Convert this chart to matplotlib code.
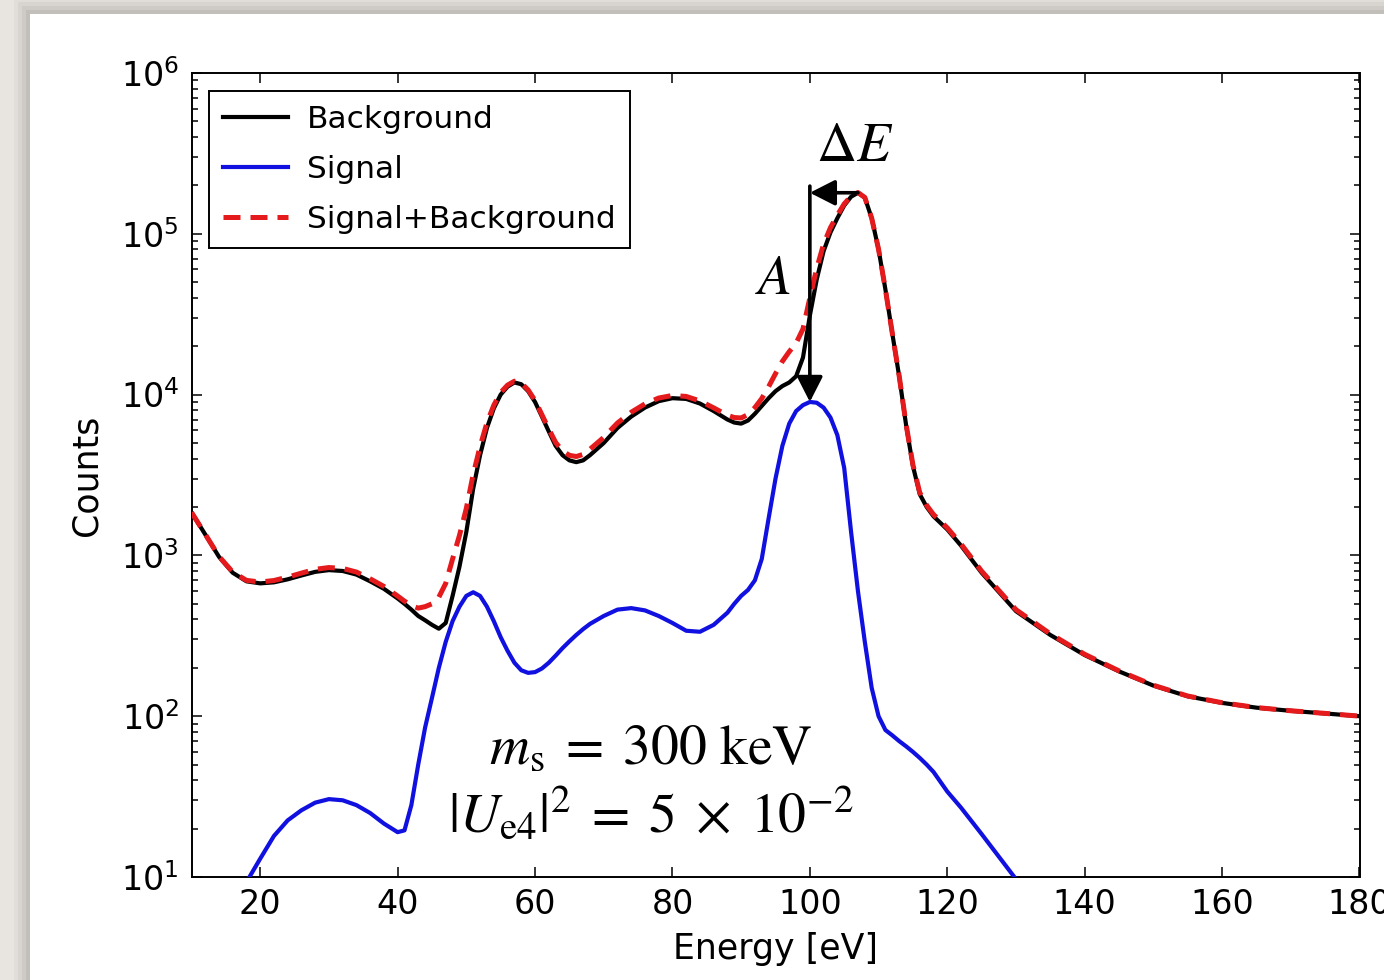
import numpy as np
import matplotlib.pyplot as plt
from matplotlib.patches import Rectangle

# energy grid [eV]
energy = [10, 12, 14, 16, 18, 20, 22, 24, 26, 28, 30, 32, 34, 36, 38, 40, 41, 42,
          43, 44, 45, 46, 47, 48, 49, 50, 51, 52, 53, 54, 55, 56, 57, 58, 59, 60,
          61, 62, 63, 64, 65, 66, 67, 68, 70, 72, 74, 76, 78, 80, 82, 84, 86, 88,
          89, 90, 91, 92, 93, 94, 95, 96, 97, 98, 99, 100, 101, 102, 103, 104, 105,
          106, 107, 108, 109, 110, 111, 112, 113, 114, 115, 116, 117, 118, 120, 122,
          125, 130, 135, 140, 145, 150, 155, 160, 165, 170, 175, 180]

background = [1850, 1350, 980, 780, 690, 670, 680, 710, 750, 790, 810, 800, 760, 690,
              620, 540, 500, 460, 420, 395, 370, 350, 380, 560, 850, 1400, 2600, 4200,
              6200, 8200, 10000, 11200, 11900, 11600, 10500, 9000, 7300, 5900, 4800,
              4200, 3900, 3800, 3900, 4200, 5000, 6200, 7300, 8300, 9100, 9500, 9400,
              8800, 7900, 7000, 6700, 6600, 6900, 7600, 8500, 9500, 10500, 11300, 11900,
              13000, 17000, 31000, 52000, 78000, 102000, 125000, 150000, 170000, 180000,
              168000, 125000, 80000, 45000, 24000, 13000, 6500, 3600, 2400, 2000, 1750,
              1450, 1150, 780, 450, 320, 240, 190, 155, 133, 121, 113, 108, 104, 100]

signal = [3, 4.2, 5.8, 7.8, 9.3, 13, 18, 22.5, 26, 29, 30.5, 30, 28, 25, 21.5, 19,
          19.5, 28, 50, 85, 130, 200, 290, 390, 480, 560, 590, 560, 480, 390, 310,
          255, 215, 193, 186, 188, 198, 215, 238, 265, 292, 320, 348, 375, 420, 460,
          470, 455, 420, 380, 340, 335, 370, 440, 500, 560, 610, 700, 950, 1700, 3000,
          4800, 6600, 7900, 8600, 9000, 8900, 8300, 7200, 5600, 3500, 1400, 600, 290,
          150, 100, 82, 76, 70, 65, 60, 55, 50, 45, 34, 27, 18.5, 9.7, 5, 2.6, 1.4,
          0.8, 0.5, 0.3, 0.2, 0.1, 0.1, 0.1]

energy = np.array(energy)
background = np.array(background, dtype=float)
signal = np.array(signal, dtype=float)
total = background + signal

fig = plt.figure(figsize=(13.84, 9.8), dpi=100)
fig.patch.set_facecolor('#e8e5e1')

# white card with a soft shadow on its left and top edges
for i, a in enumerate([0.05, 0.07, 0.09, 0.12]):
    off = (4 - i) * 4
    fig.patches.append(Rectangle(((30 - off) / 1384, 0), (1354 + off) / 1384,
                                 (966 + off) / 980, transform=fig.transFigure,
                                 facecolor='#6e6a66', alpha=a, edgecolor='none',
                                 zorder=-10))
fig.patches.append(Rectangle((30 / 1384, 0), 1354 / 1384, 966 / 980,
                             transform=fig.transFigure, facecolor='white',
                             edgecolor='none', zorder=-5))

ax = fig.add_axes([191.5 / 1384, 103 / 980, 1168 / 1384, 804 / 980])

ax.plot(energy, background, color='black', lw=3, label='Background', zorder=2)
ax.plot(energy, signal, color='#1010e0', lw=3, label='Signal', zorder=3)
ax.plot(energy, total, color='#e41a1c', lw=3.6, ls=(0, (3.4, 2.0)),
        label='Signal+Background', zorder=4)

ax.set_yscale('log')
ax.set_xlim(10, 180)
ax.set_ylim(10, 1e6)
ax.set_xticks([20, 40, 60, 80, 100, 120, 140, 160, 180])
ax.set_xlabel('Energy [eV]', fontsize=25, labelpad=8)
ax.set_ylabel('Counts', fontsize=25, labelpad=12)

ax.tick_params(which='both', direction='in', top=True, right=True, width=1.1)
ax.tick_params(which='major', length=7.5, labelsize=24)
ax.tick_params(which='minor', length=4)
ax.tick_params(axis='x', which='major', pad=8)
ax.tick_params(axis='y', which='major', pad=9)
for s in ax.spines.values():
    s.set_linewidth(1.4)

# arrows for peak shift and amplitude
i_b = int(np.argmax(background))
i_s = int(np.argmax(signal))
arrow = dict(arrowstyle='-|>,head_length=0.55,head_width=0.28', color='black',
             lw=2.6, shrinkA=0, shrinkB=0, mutation_scale=28)
ax.annotate('', xy=(energy[i_s], signal[i_s]),
            xytext=(energy[i_s], background[i_b] * 1.1), arrowprops=arrow, zorder=5)
ax.annotate('', xy=(energy[i_s], background[i_b]),
            xytext=(energy[i_b], background[i_b]), arrowprops=arrow, zorder=5)

ax.text(106.5, 3.5e5, r'$\Delta E$', fontsize=40, math_fontfamily='stix',
        ha='center', va='center')
ax.text(94.6, 5.2e4, r'$A$', fontsize=40, math_fontfamily='stix',
        ha='center', va='center')
ax.text(76.9, 63, r'$m_{\mathrm{s}}\;=\;300\ \mathrm{keV}$', fontsize=40,
        math_fontfamily='stix', ha='center', va='center')
ax.text(76.9, 24, r'$|U_{\mathrm{e4}}|^2\;=\;5\;\times\;10^{-2}$', fontsize=40,
        math_fontfamily='stix', ha='center', va='center')

leg = ax.legend(loc='upper left', bbox_to_anchor=(0.0146, 0.978), borderaxespad=0,
                fontsize=22.5, handlelength=2.1, handletextpad=0.6,
                labelspacing=0.68, borderpad=0.45, fancybox=False, framealpha=1,
                edgecolor='black')
leg.get_frame().set_linewidth(1.4)

fig.savefig('out.png', dpi=100, facecolor=fig.get_facecolor())
